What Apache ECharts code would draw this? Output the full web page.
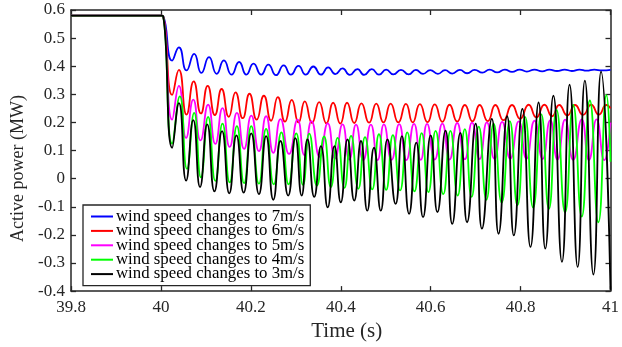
<!DOCTYPE html>
<html><head><meta charset="utf-8">
<script src="https://cdn.jsdelivr.net/npm/echarts@6/dist/echarts.min.js"></script>
<style>html,body{margin:0;padding:0;background:#fff}#c{width:622px;height:347px}</style>
</head><body><div id="c"></div>
<script>
const seriesNames = ['wind speed changes to 7m/s','wind speed changes to 6m/s','wind speed changes to 5m/s','wind speed changes to 4m/s','wind speed changes to 3m/s'];
const xTicks = [39.8, 40, 40.2, 40.4, 40.6, 40.8, 41];
const yTicks = [-0.4, -0.3, -0.2, -0.1, 0, 0.1, 0.2, 0.3, 0.4, 0.5, 0.6];

const blueT = [39.8, 40.0, 40.005, 40.025, 40.040, 40.057, 40.074, 40.090, 40.107, 40.124, 40.140, 40.157, 40.174, 40.190, 40.206, 40.223, 40.239, 40.256, 40.273, 40.289, 40.306, 40.322, 40.339, 40.356, 40.372, 40.388, 40.404, 40.420, 40.437, 40.452, 40.469, 40.485, 40.501, 40.517, 40.534, 40.551, 40.567, 40.583, 40.599, 40.616, 40.632, 40.648, 40.665, 40.681, 40.698, 40.715, 40.731, 40.748, 40.765, 40.781, 40.798, 40.814, 40.831, 40.848, 40.864, 40.881, 40.898, 40.914, 40.931, 40.947, 40.964, 40.981, 41.0];
const blueV = [0.58, 0.58, 0.578, 0.42, 0.467, 0.385, 0.444, 0.376, 0.432, 0.373, 0.421, 0.370, 0.415, 0.370, 0.409, 0.370, 0.406, 0.368, 0.403, 0.370, 0.401, 0.370, 0.399, 0.370, 0.396, 0.372, 0.392, 0.369, 0.390, 0.369, 0.390, 0.370, 0.388, 0.371, 0.387, 0.371, 0.387, 0.373, 0.386, 0.373, 0.386, 0.374, 0.387, 0.375, 0.387, 0.377, 0.388, 0.378, 0.388, 0.380, 0.388, 0.381, 0.388, 0.382, 0.388, 0.383, 0.388, 0.383, 0.388, 0.384, 0.388, 0.385, 0.387];

const redT = [39.8, 40.0, 40.005, 40.025, 40.040, 40.057, 40.073, 40.089, 40.104, 40.120, 40.135, 40.151, 40.166, 40.182, 40.197, 40.213, 40.229, 40.245, 40.260, 40.276, 40.291, 40.306, 40.320, 40.336, 40.352, 40.368, 40.383, 40.399, 40.414, 40.430, 40.446, 40.463, 40.479, 40.495, 40.511, 40.528, 40.545, 40.560, 40.576, 40.593, 40.609, 40.626, 40.642, 40.659, 40.676, 40.693, 40.709, 40.727, 40.744, 40.762, 40.781, 40.799, 40.818, 40.835, 40.853, 40.870, 40.886, 40.904, 40.921, 40.939, 40.957, 40.974, 40.991, 41.0];
const redV = [0.58, 0.58, 0.578, 0.298, 0.387, 0.228, 0.346, 0.232, 0.330, 0.226, 0.319, 0.220, 0.307, 0.215, 0.302, 0.210, 0.295, 0.206, 0.290, 0.203, 0.280, 0.200, 0.275, 0.198, 0.272, 0.197, 0.270, 0.196, 0.270, 0.198, 0.268, 0.199, 0.267, 0.200, 0.267, 0.200, 0.266, 0.200, 0.265, 0.201, 0.264, 0.202, 0.263, 0.203, 0.262, 0.204, 0.262, 0.205, 0.262, 0.208, 0.262, 0.213, 0.263, 0.218, 0.263, 0.222, 0.262, 0.225, 0.262, 0.227, 0.263, 0.228, 0.262, 0.25];

const magentaT = [39.8, 40.0, 40.005, 40.025, 40.040, 40.056, 40.072, 40.088, 40.105, 40.121, 40.137, 40.153, 40.169, 40.185, 40.201, 40.218, 40.234, 40.250, 40.266, 40.285, 40.304, 40.319, 40.335, 40.353, 40.371, 40.387, 40.404, 40.419, 40.434, 40.450, 40.467, 40.482, 40.496, 40.513, 40.530, 40.546, 40.563, 40.578, 40.592, 40.609, 40.626, 40.642, 40.659, 40.676, 40.692, 40.709, 40.725, 40.742, 40.759, 40.777, 40.796, 40.813, 40.831, 40.849, 40.866, 40.882, 40.899, 40.917, 40.936, 40.952, 40.969, 40.986, 41.0];
const magentaV = [0.58, 0.58, 0.578, 0.21, 0.330, 0.145, 0.281, 0.136, 0.263, 0.124, 0.251, 0.113, 0.234, 0.106, 0.224, 0.098, 0.222, 0.092, 0.212, 0.088, 0.210, 0.084, 0.205, 0.078, 0.197, 0.072, 0.193, 0.068, 0.192, 0.066, 0.192, 0.066, 0.193, 0.067, 0.194, 0.066, 0.195, 0.067, 0.195, 0.068, 0.196, 0.068, 0.198, 0.069, 0.199, 0.070, 0.200, 0.070, 0.202, 0.071, 0.204, 0.071, 0.206, 0.070, 0.208, 0.068, 0.210, 0.067, 0.211, 0.066, 0.211, 0.066, 0.20];

const greenT = [39.8, 40.0, 40.005, 40.025, 40.042, 40.058, 40.074, 40.089, 40.105, 40.121, 40.137, 40.153, 40.169, 40.185, 40.201, 40.218, 40.234, 40.251, 40.268, 40.284, 40.301, 40.316, 40.330, 40.347, 40.363, 40.378, 40.393, 40.408, 40.423, 40.439, 40.454, 40.470, 40.485, 40.501, 40.516, 40.532, 40.548, 40.564, 40.580, 40.595, 40.611, 40.628, 40.644, 40.660, 40.676, 40.691, 40.707, 40.724, 40.740, 40.758, 40.776, 40.793, 40.810, 40.828, 40.846, 40.863, 40.880, 40.899, 40.917, 40.936, 40.954, 40.973, 40.991, 41.0];
const greenV = [0.58, 0.58, 0.578, 0.125, 0.293, 0.035, 0.234, 0.005, 0.220, -0.008, 0.196, -0.013, 0.187, -0.016, 0.187, -0.018, 0.177, -0.020, 0.165, -0.020, 0.161, -0.022, 0.160, -0.025, 0.150, -0.030, 0.145, -0.033, 0.152, -0.036, 0.148, -0.038, 0.158, -0.040, 0.155, -0.042, 0.165, -0.045, 0.162, -0.048, 0.170, -0.055, 0.170, -0.060, 0.176, -0.065, 0.185, -0.075, 0.196, -0.085, 0.205, -0.095, 0.220, -0.103, 0.229, -0.107, 0.245, -0.120, 0.262, -0.135, 0.278, -0.155, 0.297, 0.06];

const blackT = [39.8, 40.0, 40.005, 40.025, 40.040, 40.056, 40.072, 40.087, 40.103, 40.119, 40.136, 40.152, 40.168, 40.184, 40.201, 40.218, 40.234, 40.250, 40.266, 40.283, 40.299, 40.313, 40.326, 40.341, 40.356, 40.371, 40.386, 40.400, 40.415, 40.430, 40.445, 40.459, 40.474, 40.489, 40.504, 40.522, 40.536, 40.552, 40.568, 40.583, 40.600, 40.615, 40.633, 40.648, 40.666, 40.681, 40.700, 40.714, 40.736, 40.751, 40.770, 40.785, 40.804, 40.822, 40.840, 40.855, 40.873, 40.892, 40.909, 40.927, 40.943, 40.962, 40.979, 41.0];
const blackV = [0.58, 0.58, 0.578, 0.11, 0.269, -0.007, 0.208, -0.030, 0.193, -0.045, 0.169, -0.052, 0.154, -0.050, 0.161, -0.055, 0.151, -0.075, 0.134, -0.060, 0.144, -0.060, 0.140, -0.065, 0.116, -0.102, 0.116, -0.084, 0.140, -0.078, 0.134, -0.114, 0.110, -0.114, 0.140, -0.090, 0.151, -0.125, 0.128, -0.137, 0.154, -0.119, 0.171, -0.161, 0.163, -0.155, 0.196, -0.178, 0.213, -0.196, 0.222, -0.202, 0.248, -0.243, 0.271, -0.249, 0.295, -0.296, 0.334, -0.314, 0.349, -0.341, 0.381, -0.395];

const colors = ['#0000ff', '#ff0000', '#ff00ff', '#00ff00', '#000000'];
const seriesT = [blueT, redT, magentaT, greenT, blackT];
const seriesV = [blueV, redV, magentaV, greenV, blackV];

const FONT = '"Liberation Serif", "Times New Roman", serif';
const AX = '#262626';

function zip(t, v) { return t.map((x, i) => [x, v[i]]); }

const chart = echarts.init(document.getElementById('c'), null, {renderer: 'canvas'});
const axisCommon = {
  type: 'value',
  axisLine: {show: true, onZero: false, lineStyle: {color: AX, width: 1.5}},
  axisTick: {show: true, inside: true, length: 5, lineStyle: {color: AX, width: 1.3}},
  splitLine: {show: false}
};
chart.setOption({
  animation: false,
  backgroundColor: '#fff',
  grid: {left: 71, right: 10, top: 10, bottom: 55},
  xAxis: [
    Object.assign({}, axisCommon, {
      position: 'bottom', min: xTicks[0], max: xTicks[xTicks.length - 1], interval: 0.2,
      axisLabel: {color: AX, fontFamily: FONT, fontSize: 17, margin: 8,
        formatter: v => String(+v.toFixed(1))},
      name: 'Time (s)', nameLocation: 'middle', nameGap: 29,
      nameTextStyle: {color: AX, fontFamily: FONT, fontSize: 21, padding: [0, 0, 0, 12]}
    }),
    Object.assign({}, axisCommon, {
      position: 'top', min: xTicks[0], max: xTicks[xTicks.length - 1], interval: 0.2,
      axisLabel: {show: false}
    })
  ],
  yAxis: [
    Object.assign({}, axisCommon, {
      position: 'left', min: yTicks[0], max: yTicks[yTicks.length - 1], interval: 0.1,
      axisLabel: {color: AX, fontFamily: FONT, fontSize: 17, margin: 6,
        formatter: v => String(+v.toFixed(1))},
      name: 'Active power (MW)', nameLocation: 'middle', nameGap: 44, nameRotate: 90,
      nameTextStyle: {color: AX, fontFamily: FONT, fontSize: 18, padding: [0, 36, 0, 0]}
    }),
    Object.assign({}, axisCommon, {
      position: 'right', min: yTicks[0], max: yTicks[yTicks.length - 1], interval: 0.1,
      axisLabel: {show: false}
    })
  ],
  legend: {
    orient: 'vertical', left: 83, top: 205,
    padding: [3, 6, 3, 8], itemGap: -2.6, itemWidth: 22, itemHeight: 2, icon: 'rect',
    backgroundColor: '#fff', borderColor: AX, borderWidth: 1.3,
    textStyle: {fontFamily: FONT, fontSize: 16.8, color: '#000', lineHeight: 14.6, padding: [0, 0, 0, -2]},
    data: seriesNames
  },
  series: seriesNames.map((n, i) => ({
    name: n, type: 'line', xAxisIndex: 0, yAxisIndex: 0,
    data: zip(seriesT[i], seriesV[i]),
    smooth: 0.55, symbol: 'none', clip: true,
    lineStyle: {color: colors[i], width: 1.8},
    itemStyle: {color: colors[i]}
  }))
});
</script></body></html>
